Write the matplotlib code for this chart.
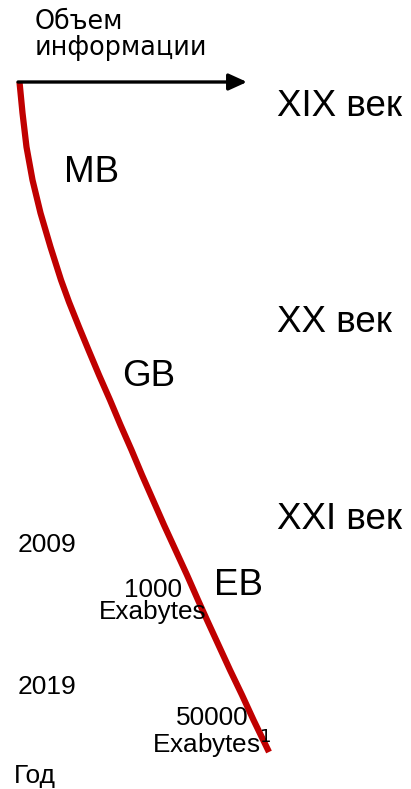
import matplotlib

matplotlib.use("Agg")
import matplotlib.pyplot as plt

# ------------------------------------------------------------
# Data: growth curve (x = information volume, y = time, axis units)
# ------------------------------------------------------------
curve_x = [19.5, 22.5, 26.5, 32.5, 40.5, 50.5, 61, 69, 79, 88.5, 99, 110, 120.5,
           131.5, 142, 153, 164, 175.5, 187, 198, 207, 218.5, 230, 242, 253.5, 269]
curve_y = [82, 113, 147, 180, 213, 247, 280, 302, 327, 350, 375, 400, 425,
           450, 475, 500, 525, 550, 575, 600, 620, 645, 670, 695, 720, 752]

centuries = ["XIX век", "XX век", "XXI век"]
units = ["MB", "GB", "EB"]
years = ["2009", "2019"]
volumes = ["1000\nExabytes", "50000\nExabytes$^1$"]

W, H = 411, 789
fig = plt.figure(figsize=(W / 100, H / 100), dpi=100)
ax = fig.add_axes([0, 0, 1, 1])
ax.set_xlim(0, W)
ax.set_ylim(H, 0)
ax.axis("off")

arial = "Liberation Sans"

# axis arrow
ax.annotate("", xy=(247, 82), xytext=(18, 82),
            arrowprops=dict(arrowstyle="-|>,head_length=1.1,head_width=0.5",
                            color="black", lw=2.4, shrinkA=0, shrinkB=0))

# red curve
ax.plot(curve_x, curve_y, color="#C00000", lw=4.5, solid_capstyle="butt",
        solid_joinstyle="round")

# multiline text: baseline = last line
ax.text(35, 55, "Объем\nинформации", fontsize=18.4, family="DejaVu Sans",
        va="baseline", ha="left", linespacing=1.0)

for txt, yb in zip(centuries, [116, 332, 529]):
    ax.text(277, yb, txt, fontsize=26.5, family=arial, va="baseline", ha="left")

for txt, xy in zip(units, [(64, 182), (122, 386), (214, 595)]):
    ax.text(xy[0], xy[1], txt, fontsize=26.5, family=arial, va="baseline", ha="left")

for txt, yb in zip(years, [552, 694]):
    ax.text(18, yb, txt, fontsize=19, family=arial, va="baseline", ha="left")

for txt, xy in zip(volumes, [(153, 619), (212, 753)]):
    ax.text(xy[0], xy[1], txt, fontsize=18.8, family=arial, va="baseline",
            ha="center", multialignment="center", linespacing=0.88)

ax.text(14, 783, "Год", fontsize=19, family=arial, va="baseline", ha="left")

fig.savefig("out.png", dpi=100)
